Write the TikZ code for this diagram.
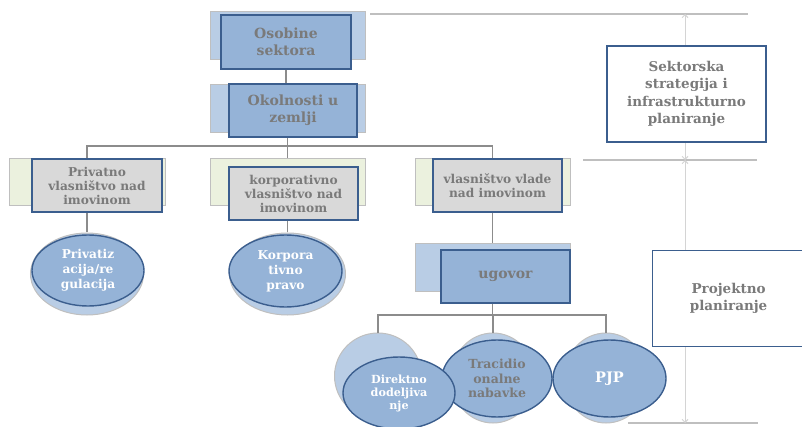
\documentclass[tikz,border=0pt]{standalone}
\usepackage{fontspec}
\setmainfont{DejaVu Serif}
\usetikzlibrary{arrows.meta,shapes.geometric}
\definecolor{frontblue}{HTML}{95B3D7}
\definecolor{backblue}{HTML}{B9CDE5}
\definecolor{edgeblue}{HTML}{3B5E8E}
\definecolor{greybox}{HTML}{D9D9D9}
\definecolor{greenback}{HTML}{EBF1DE}
\definecolor{txtgrey}{HTML}{7A7A7A}
\definecolor{linegrey}{HTML}{8C8C8C}
\definecolor{rulegrey}{HTML}{BFBFBF}
\definecolor{arrowgrey}{HTML}{D4D4D4}
\tikzset{
  backbox/.style={draw=rulegrey, line width=1pt, fill=backblue, minimum width=#1, minimum height=47pt, inner sep=0pt},
  greenbox/.style={draw=rulegrey, line width=1pt, fill=greenback, minimum width=#1, minimum height=47pt, inner sep=0pt},
  frontbox/.style={draw=edgeblue, line width=1.4pt, fill=frontblue, minimum width=#1, minimum height=53pt, inner sep=0pt, align=center, text=txtgrey, font=\bfseries\fontsize{14}{17}\selectfont},
  greyfront/.style={draw=edgeblue, line width=1.4pt, fill=greybox, minimum width=#1, minimum height=53pt, inner sep=0pt, align=center, text=txtgrey, font=\bfseries\fontsize{12.2}{14}\selectfont},
  shadowell/.style={ellipse, draw=rulegrey, line width=1pt, fill=backblue, minimum width=#1, inner sep=0pt},
  mainell/.style={ellipse, draw=edgeblue, line width=1.4pt, fill=frontblue, minimum width=#1, inner sep=0pt, align=center, text=white, font=\bfseries\fontsize{12.2}{15}\selectfont},
  conn/.style={draw=linegrey, line width=1.3pt},
  rulel/.style={draw=rulegrey, line width=1.2pt},
  sidebox/.style={draw=edgeblue, line width=1.2pt, fill=white, inner sep=0pt, align=center, text=txtgrey, font=\bfseries\fontsize{13.5}{17.5}\selectfont},
  dimline/.style={draw=arrowgrey, line width=1pt, {Straight Barb[length=3pt,width=6pt]}-{Straight Barb[length=3pt,width=6pt]}}
}
\begin{document}
\begin{tikzpicture}[x=1pt,y=-1pt]
\useasboundingbox (0,0) rectangle (802,427);
% right side rules and dimension arrows
\coordinate (r1a) at (370,14); \coordinate (r1b) at (748,14);
\coordinate (r2a) at (583,160); \coordinate (r2b) at (757,160);
\coordinate (r3a) at (628,423); \coordinate (r3b) at (758,423);
\coordinate (d1) at (685,14); \coordinate (d2) at (685,160); \coordinate (d3) at (685,423);
\draw[rulel] (r1a) -- (r1b);
\draw[rulel] (r2a) -- (r2b);
\draw[rulel] (r3a) -- (r3b);
\draw[dimline] (d1) -- (d2);
\draw[dimline] (d2) -- (d3);
\node[sidebox, minimum width=159pt, minimum height=96pt] (sek) at (686.5,94) {Sektorska\\strategija i\\infrastrukturno\\planiranje};
\node[sidebox, minimum width=152pt, minimum height=96pt, anchor=north west] (proj) at (652,250) {Projektno\\planiranje};

% top boxes
\node[backbox=155pt, minimum height=48pt] (osobB) at (287.5,36) {};
\node[frontbox=130pt, minimum height=54pt] (osobF) at (286,42) {Osobine\\sektora};
\node[backbox=155pt, minimum height=48pt] (okolB) at (287.5,109) {};
\draw[conn] (osobF.south) -- (osobF.south |- okolB.north);
\node[frontbox=128pt] (okolF) at (293,110.5) {Okolnosti u\\zemlji};

% bus
\coordinate (busy) at (0,146);
\draw[conn] (okolF.south -| okolB.south) -- (okolB.south |- busy);
\node[greenbox=156pt] (privB) at (87,182.5) {};
\node[greenbox=155pt] (korB) at (287.5,182.5) {};
\node[greenbox=155pt] (vladB) at (492.5,182.5) {};
\draw[conn] (privB.north) -- (privB.north |- busy) -| (vladB.north);
\draw[conn] (korB.north |- busy) -- (korB.north);
\node[greyfront=130pt] (privF) at (97,185.5) {Privatno\\vlasništvo nad\\imovinom};
\node[greyfront=129pt] (korF) at (293.5,193.5) {korporativno\\vlasništvo nad\\imovinom};
\node[greyfront=129pt] (vladF) at (497.5,185.5) {vlasništvo vlade\\nad imovinom};

% ellipses level 2
\node[shadowell=113pt, minimum height=82pt] (privS) at (87,274) {};
\draw[conn] (privF.south -| privB.south) -- (privS.north);
\node[mainell=112pt, minimum height=71pt] (privE) at (88,270.5) {Privatiz\\acija/re\\gulacija};
\node[shadowell=116pt, minimum height=82pt] (korS) at (287.5,274) {};
\draw[conn] (korF.south -| korB.south) -- (korS.north);
\node[mainell=113pt, minimum height=72pt] (korE) at (285.5,271) {Korpora\\tivno\\pravo};

% ugovor
\node[backbox=155pt] (ugB) at (492.5,267.5) {};
\draw[conn] (vladF.south -| vladB.south) -- (ugB.north);
\node[frontbox=129pt] (ugF) at (505.5,276.5) {ugovor};

% bottom bus
\coordinate (bus2) at (0,315);
\node[shadowell=87pt, minimum height=86pt] (dirS) at (378,376) {};
\node[shadowell=84pt, minimum height=90pt] (traS) at (493,378) {};
\node[shadowell=84pt, minimum height=90pt] (pjpS) at (606,378) {};
\draw[conn] (ugF.south -| ugB.south) -- (ugB.south |- bus2);
\draw[conn] (dirS.north) -- (dirS.north |- bus2) -| (pjpS.north);
\draw[conn] (traS.north |- bus2) -- (traS.north);
\node[mainell=110pt, minimum height=77pt, text=txtgrey, font=\bfseries\fontsize{12.5}{14.5}\selectfont] (traE) at (497,378.5) {Tracidio\\onalne\\nabavke};
\node[mainell=112pt, minimum height=72pt, font=\bfseries\fontsize{11.2}{13}\selectfont] (dirE) at (399,393) {Direktno\\dodeljiva\\nje};
\node[mainell=113pt, minimum height=77pt, font=\bfseries\fontsize{14.5}{15}\selectfont] (pjpE) at (609.5,378.5) {PJP};
\end{tikzpicture}
\end{document}
